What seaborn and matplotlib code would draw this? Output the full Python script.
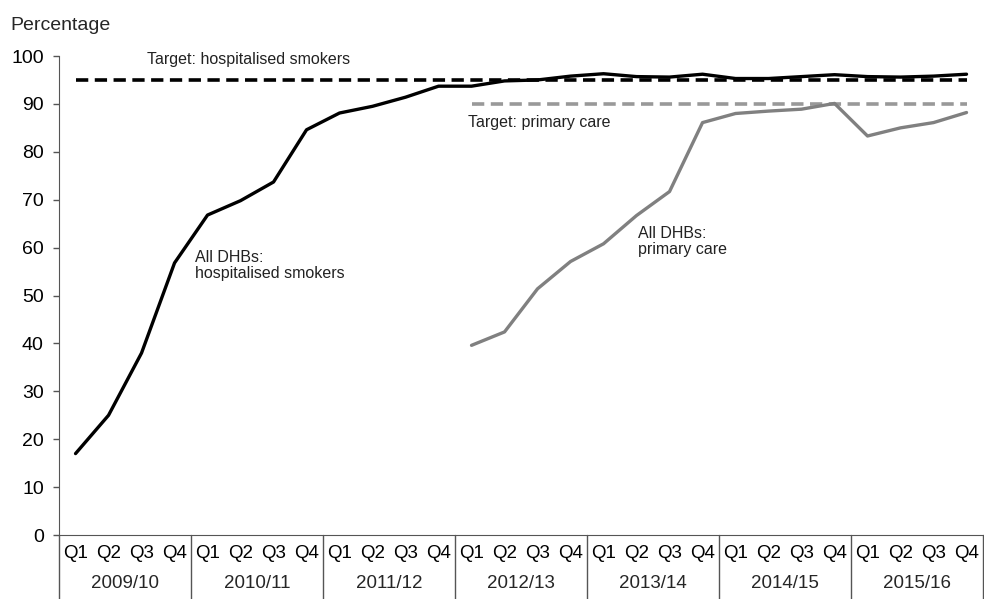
import pandas as pd
import seaborn as sns
import matplotlib.pyplot as plt
from matplotlib.transforms import blended_transform_factory

sns.set_style("white")
plt.rcParams['font.family'] = ['Liberation Sans', 'DejaVu Sans']

# 数据
years = ["2009/10", "2010/11", "2011/12", "2012/13", "2013/14", "2014/15", "2015/16"]
quarters = ["Q1", "Q2", "Q3", "Q4"]

hospitalised = [17.0, 25.0, 38.0, 56.8,
                66.8, 69.8, 73.7, 84.6,
                88.1, 89.5, 91.4, 93.7,
                93.7, 94.8, 95.0, 95.8,
                96.3, 95.7, 95.6, 96.2,
                95.3, 95.3, 95.7, 96.1,
                95.7, 95.6, 95.8, 96.2]

primary_care = [39.6, 42.4, 51.4, 57.1,
                60.8, 66.7, 71.7, 86.1,
                88.0, 88.5, 88.9, 90.1,
                83.3, 85.0, 86.1, 88.2]
primary_start = 12  # 2012/13 Q1

target_hospitalised = 95
target_primary = 90

n = len(years) * len(quarters)
idx = list(range(n))
df_hosp = pd.DataFrame({"idx": idx, "value": hospitalised})
df_prim = pd.DataFrame({"idx": idx[primary_start:], "value": primary_care})
df_t_hosp = pd.DataFrame({"idx": idx, "value": [target_hospitalised] * n})
df_t_prim = pd.DataFrame({"idx": idx[primary_start:], "value": [target_primary] * (n - primary_start)})

fig = plt.figure(figsize=(9.84, 5.99), dpi=100)
ax = fig.add_axes([0.06, 0.1068, 0.939, 0.7997])

# 目标线（虚线）
sns.lineplot(data=df_t_hosp, x="idx", y="value", color="black", lw=2.6, ax=ax)
ax.lines[-1].set_dashes([3.4, 1.8])
sns.lineplot(data=df_t_prim, x="idx", y="value", color="#999999", lw=2.6, ax=ax)
ax.lines[-1].set_dashes([3.4, 1.8])

# 实际值
sns.lineplot(data=df_hosp, x="idx", y="value", color="black", lw=2.4, ax=ax,
             solid_joinstyle="round", solid_capstyle="round")
sns.lineplot(data=df_prim, x="idx", y="value", color="#808080", lw=2.4, ax=ax,
             solid_joinstyle="round", solid_capstyle="round")

ax.set_xlim(-0.5, n - 0.5)
ax.set_ylim(0, 100)
ax.set_yticks(range(0, 101, 10))
ax.set_xticks(idx)
ax.set_xticklabels(quarters * len(years))
ax.set_xlabel("")
ax.set_ylabel("")
ax.tick_params(axis="y", labelsize=14, length=4, width=1, color="#555555",
               direction="out", left=True, pad=7, labelcolor="black")
ax.tick_params(axis="x", labelsize=13.5, length=0, pad=7, labelcolor="black")

sns.despine(ax=ax)
ax.spines["left"].set_color("#555555")
ax.spines["bottom"].set_color("#555555")

# 年份分组和分隔线
trans = blended_transform_factory(ax.transData, ax.transAxes)
for i, yr in enumerate(years):
    ax.text(i * 4 + 1.5, -0.101, yr, transform=trans, ha="center", va="center",
            fontsize=13.5)
for b in range(len(years) + 1):
    ax.plot([b * 4 - 0.5, b * 4 - 0.5], [0, -0.16], transform=trans,
            color="#555555", lw=1, clip_on=False)

# 注释
ax.text(2.17, 99.2, "Target: hospitalised smokers", fontsize=11.5, va="center", color="#222222")
ax.text(11.9, 86.2, "Target: primary care", fontsize=11.5, va="center", color="#222222")
ax.text(3.62, 56.2, "All DHBs:\nhospitalised smokers", fontsize=11.5, va="center",
        linespacing=1.1, color="#222222")
ax.text(17.05, 61.2, "All DHBs:\nprimary care", fontsize=11.5, va="center",
        linespacing=1.1, color="#222222")

fig.text(10 / 984, 0.958, "Percentage", fontsize=14, va="center", ha="left")

fig.savefig("out.png", dpi=100)
